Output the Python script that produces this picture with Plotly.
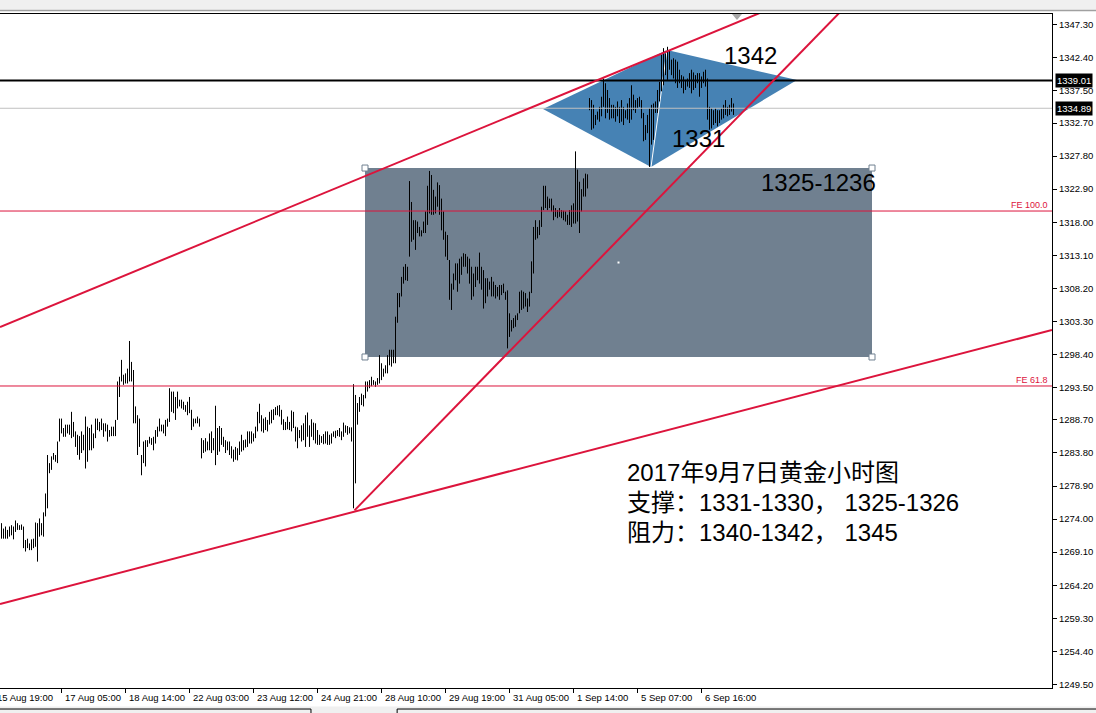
import plotly.graph_objects as go

# H1 gold bars (high / low per bar, oldest first)
bar_highs = [
    1273.4, 1272.6, 1272.9, 1272.4, 1272.9, 1273.1, 1272.9, 1273.8, 1273.4, 1273.1,
    1273.2, 1272.9, 1270.9, 1271.1, 1270.4, 1271.0, 1271.1, 1273.5, 1273.4, 1274.1,
    1273.4, 1275.0, 1277.8, 1283.5, 1282.3, 1283.3, 1283.8, 1283.5, 1285.5, 1288.9,
    1288.9, 1287.5, 1288.0, 1288.0, 1288.0, 1289.9, 1288.4, 1287.0, 1286.5, 1286.3,
    1287.0, 1286.5, 1289.2, 1287.7, 1287.5, 1288.0, 1286.7, 1288.9, 1288.9, 1288.4,
    1288.9, 1288.2, 1288.2, 1288.0, 1287.2, 1287.7, 1287.7, 1288.7, 1294.4, 1295.1,
    1297.6, 1295.4, 1295.6, 1296.3, 1300.4, 1297.3, 1296.1, 1290.7, 1289.4, 1288.9,
    1283.5, 1285.5, 1285.7, 1285.7, 1286.2, 1286.0, 1286.2, 1287.2, 1287.7, 1288.9,
    1288.0, 1288.0, 1288.7, 1288.9, 1293.4, 1292.9, 1292.9, 1292.1, 1292.9, 1291.7,
    1291.7, 1291.4, 1290.9, 1291.4, 1292.1, 1290.2, 1288.9, 1288.9, 1289.2, 1288.9,
    1286.0, 1285.7, 1286.0, 1285.5, 1286.7, 1287.0, 1286.0, 1290.8, 1287.5, 1287.8,
    1287.5, 1286.2, 1285.7, 1285.5, 1285.5, 1284.8, 1284.3, 1284.7, 1284.5, 1285.5,
    1286.5, 1285.7, 1285.8, 1287.0, 1287.0, 1287.0, 1286.7, 1287.7, 1289.9, 1291.1,
    1289.4, 1288.9, 1289.1, 1288.7, 1289.9, 1290.2, 1290.3, 1290.6, 1290.8, 1290.9,
    1290.2, 1288.8, 1288.4, 1289.2, 1288.4, 1290.1, 1289.9, 1287.7, 1287.6, 1287.2,
    1287.9, 1288.2, 1289.4, 1289.8, 1287.9, 1288.8, 1288.3, 1288.2, 1287.2, 1286.5,
    1286.3, 1286.6, 1287.0, 1287.0, 1286.5, 1286.7, 1287.0, 1287.1, 1287.2, 1287.5,
    1287.0, 1288.3, 1287.9, 1287.8, 1287.6, 1287.6, 1294.0, 1292.4, 1291.2, 1292.1,
    1292.6, 1292.4, 1294.4, 1294.4, 1294.6, 1295.1, 1294.6, 1294.4, 1294.9,
    1298.3, 1297.1, 1296.3, 1296.8, 1298.3, 1299.1, 1299.1, 1299.1, 1304.0, 1307.5,
    1307.5, 1309.9, 1311.4, 1311.8, 1311.4, 1324.1, 1321.0, 1318.3, 1318.3, 1318.1,
    1317.3, 1316.8, 1318.1, 1319.6, 1323.4, 1325.6, 1325.0, 1322.8, 1321.8, 1323.9,
    1323.5, 1321.5, 1319.6, 1316.6, 1316.1, 1312.4, 1308.9, 1310.4, 1311.9, 1311.9,
    1312.6, 1312.9, 1313.4, 1313.3, 1312.9, 1312.6, 1311.4, 1310.4, 1311.4, 1311.4,
    1313.5, 1311.4, 1310.9, 1309.7, 1309.7, 1309.2, 1309.9, 1309.2, 1308.7, 1308.4,
    1308.7, 1308.7, 1308.9, 1307.7, 1307.9, 1304.5, 1303.5, 1303.8, 1304.2, 1304.5,
    1307.7, 1307.9, 1307.7, 1307.5, 1306.7, 1307.7, 1312.2, 1317.3, 1318.3, 1317.3,
    1318.3, 1320.3, 1323.4, 1323.4, 1321.8, 1321.5, 1321.5, 1320.5, 1320.1, 1319.8,
    1320.1, 1319.8, 1319.7, 1319.6, 1319.1, 1319.8, 1320.5, 1320.8, 1328.5, 1325.8,
    1324.0, 1322.9, 1324.5, 1325.2, 1325.1,
    1336.4, 1336.1, 1335.4, 1333.9, 1334.4, 1335.1, 1336.6, 1339.3, 1338.6, 1337.6,
    1336.4, 1335.4, 1335.4, 1335.1, 1335.9, 1335.1, 1336.1, 1335.1, 1334.6, 1335.6,
    1336.4, 1338.3, 1336.9, 1336.1, 1336.4, 1336.6, 1336.1, 1334.2, 1332.4, 1333.9,
    1334.9, 1335.4, 1335.6, 1335.9, 1337.6, 1338.8, 1342.8, 1343.8, 1343.0, 1344.0,
    1343.5, 1342.1, 1342.3, 1342.1, 1341.8, 1340.6, 1339.8, 1339.6, 1339.1, 1339.3,
    1340.1, 1340.6, 1340.2, 1339.8, 1340.1, 1340.1, 1339.6, 1340.3, 1340.6, 1339.3,
    1335.1, 1334.9, 1334.6, 1334.9, 1334.6, 1334.6, 1334.9, 1335.4, 1336.1, 1335.1,
    1335.4, 1336.4, 1335.6,
]
bar_lows = [
    1271.1, 1271.1, 1271.1, 1271.1, 1271.4, 1271.6, 1271.0, 1272.1, 1272.4, 1272.4,
    1272.4, 1269.7, 1269.2, 1269.7, 1269.4, 1269.4, 1269.7, 1269.9, 1267.7, 1271.4,
    1271.6, 1271.4, 1274.4, 1275.6, 1280.8, 1281.3, 1282.8, 1282.5, 1282.3, 1285.5,
    1286.7, 1286.2, 1286.2, 1286.7, 1286.5, 1286.0, 1286.2, 1284.7, 1283.5, 1282.8,
    1283.8, 1284.2, 1281.5, 1282.5, 1284.2, 1284.2, 1284.5, 1286.0, 1287.2, 1287.0,
    1287.2, 1286.2, 1287.0, 1285.5, 1286.2, 1286.3, 1286.3, 1286.3, 1288.7, 1292.1,
    1294.4, 1293.9, 1294.1, 1294.1, 1294.4, 1294.4, 1288.2, 1288.2, 1283.5, 1284.7,
    1280.5, 1282.3, 1281.8, 1284.7, 1285.2, 1285.0, 1284.2, 1285.2, 1286.2, 1287.0,
    1287.0, 1286.7, 1286.3, 1287.7, 1288.4, 1289.9, 1289.7, 1288.7, 1290.4, 1290.7,
    1290.4, 1290.2, 1289.9, 1289.4, 1289.7, 1287.2, 1287.7, 1288.2, 1288.2, 1287.7,
    1283.0, 1283.8, 1284.0, 1284.2, 1284.2, 1283.8, 1284.2, 1282.0, 1283.5, 1284.0,
    1285.0, 1284.7, 1283.8, 1284.2, 1283.5, 1283.0, 1282.5, 1282.8, 1282.7, 1283.5,
    1284.0, 1284.2, 1284.6, 1284.7, 1285.2, 1285.2, 1285.5, 1286.0, 1287.0, 1288.2,
    1287.0, 1286.8, 1287.2, 1287.0, 1288.0, 1288.2, 1288.7, 1289.4, 1289.4, 1289.2,
    1288.0, 1287.2, 1287.2, 1287.3, 1287.2, 1287.0, 1287.5, 1285.5, 1284.5, 1286.0,
    1285.5, 1285.7, 1284.7, 1286.2, 1284.7, 1286.2, 1285.7, 1285.2, 1285.0, 1285.0,
    1285.3, 1285.1, 1285.2, 1285.0, 1285.0, 1285.2, 1286.2, 1286.0, 1286.3, 1286.2,
    1285.7, 1286.2, 1286.8, 1286.5, 1286.7, 1285.5, 1275.6, 1279.3, 1288.0, 1289.9,
    1290.9, 1290.7, 1291.9, 1292.9, 1293.4, 1293.7, 1293.9, 1293.6, 1293.9,
    1294.1, 1294.6, 1295.1, 1295.6, 1295.6, 1296.8, 1296.6, 1297.1, 1297.1, 1303.1,
    1305.4, 1307.0, 1308.9, 1309.4, 1309.3, 1312.9, 1315.1, 1315.4, 1313.9, 1316.4,
    1315.9, 1315.9, 1316.4, 1316.4, 1317.6, 1319.3, 1319.1, 1319.1, 1319.3, 1320.3,
    1319.1, 1316.8, 1315.4, 1312.9, 1312.4, 1306.5, 1305.0, 1308.0, 1309.4, 1307.7,
    1308.9, 1310.2, 1311.4, 1311.4, 1310.4, 1308.9, 1306.5, 1307.0, 1308.4, 1309.4,
    1308.9, 1308.0, 1305.2, 1306.0, 1307.0, 1308.0, 1307.0, 1307.0, 1306.7, 1307.0,
    1306.5, 1307.2, 1307.5, 1306.5, 1299.3, 1301.0, 1301.8, 1302.3, 1302.5, 1303.5,
    1304.5, 1305.0, 1305.2, 1305.5, 1304.7, 1305.5, 1307.5, 1310.4, 1315.4, 1315.6,
    1316.1, 1317.3, 1319.8, 1320.1, 1319.8, 1320.1, 1319.6, 1318.3, 1318.8, 1318.6,
    1318.8, 1318.6, 1318.3, 1318.1, 1317.6, 1317.6, 1317.3, 1317.8, 1317.8, 1318.1,
    1316.4, 1319.6, 1321.8, 1321.8, 1323.0,
    1334.6, 1331.7, 1331.9, 1332.4, 1333.2, 1332.9, 1333.7, 1335.1, 1333.4, 1334.2,
    1333.2, 1333.4, 1333.4, 1332.9, 1333.7, 1332.7, 1332.9, 1332.4, 1333.4, 1333.2,
    1332.7, 1333.2, 1334.6, 1334.2, 1334.9, 1335.1, 1333.4, 1330.0, 1330.2, 1331.2,
    1326.2, 1329.5, 1330.2, 1334.2, 1334.2, 1335.9, 1337.4, 1338.3, 1339.8, 1339.1,
    1340.6, 1339.8, 1339.3, 1338.6, 1337.9, 1338.6, 1337.9, 1337.1, 1337.6, 1338.1,
    1337.9, 1337.1, 1337.6, 1337.9, 1338.6, 1336.6, 1337.9, 1338.6, 1338.1, 1333.2,
    1331.7, 1331.9, 1332.4, 1332.7, 1332.2, 1332.7, 1333.2, 1333.4, 1333.9, 1333.7,
    1333.9, 1334.4, 1333.9,
]

time_tick_bars = [30, 62, 94, 126, 158, 190, 222, 254, 286, 318, 350]
time_tick_labels = [
    "17 Aug 05:00", "18 Aug 14:00", "22 Aug 03:00", "23 Aug 12:00",
    "24 Aug 21:00", "28 Aug 10:00", "29 Aug 19:00", "31 Aug 05:00",
    "1 Sep 14:00", "5 Sep 07:00", "6 Sep 16:00",
]
first_partial_label = "15 Aug 19:00"

price_ticks = [
    1249.50, 1254.40, 1259.30, 1264.20, 1269.10, 1274.00, 1278.90, 1283.80,
    1288.70, 1293.50, 1298.40, 1303.30, 1308.20, 1313.10, 1318.00, 1322.90,
    1327.80, 1332.70, 1337.50, 1342.40, 1347.30,
]

bid_price = 1334.89
level_price = 1339.01
fe_levels = {"FE 100.0": 1319.66, "FE 61.8": 1293.73}

# chart objects, anchored on (bar, price)
zone_box = (181.75, 1298.03, 435.25, 1326.03)
diamond = [(270.75, 1334.78), (332.75, 1343.52), (397.75, 1339.08), (324.75, 1326.18)]
upper_channel = ((-0.75, 1302.47), (400.0, 1351.56))
lower_channel = ((-0.75, 1261.42), (525.25, 1302.03))
rising_line = ((176.5, 1275.3), (430.0, 1352.4))

price_notes = [
    ("1342", 374.25, 1342.78),
    ("1331", 348.25, 1330.48),
    ("1325-1236", 408.25, 1323.96),
]
summary_lines = [
    ("2017年9月7日黄金小时图", 1280.98),
    ("支撑：1331-1330， 1325-1326", 1276.39),
    ("阻力：1340-1342， 1345", 1272.09),
]

CRIMSON = "#dc143c"
TICK_FONT = {"family": "Liberation Sans, Arial, sans-serif", "size": 9.5, "color": "#000000"}
BIG_FONT = {"family": "Liberation Sans, Noto Sans CJK SC, sans-serif", "size": 24, "color": "#000000"}

x_range = [-0.75, 525.25]
y_range = [1248.97, 1348.86]

bar_x: list = []
bar_y: list = []
for index, (high, low) in enumerate(zip(bar_highs, bar_lows)):
    bar_x += [index, index, None]
    bar_y += [low, high, None]

fig = go.Figure()
fig.add_trace(
    go.Scatter(
        x=bar_x,
        y=bar_y,
        mode="lines",
        line={"color": "#000000", "width": 1},
        hoverinfo="skip",
        showlegend=False,
    )
)

shapes = []

# window chrome above and below the chart
shapes.append(dict(type="rect", xref="paper", yref="paper", x0=-0.01, x1=1.05,
                   y0=1.0062, y1=1.03, fillcolor="#f0f0f0", line={"width": 0}, layer="below"))
shapes.append(dict(type="line", xref="paper", yref="paper", x0=-0.01, x1=1.05,
                   y0=1.0052, y1=1.0052, line={"color": "#a0a0a0", "width": 1.5}))
shapes.append(dict(type="rect", xref="paper", yref="paper", x0=-0.01, x1=1.05,
                   y0=-0.04, y1=-0.0275, fillcolor="#f0f0f0", line={"width": 0}))
shapes.append(dict(type="rect", xref="paper", yref="paper", x0=-0.01, x1=0.2956,
                   y0=-0.045, y1=-0.0312, fillcolor="#f0f0f0", line={"color": "#000000", "width": 1}))
shapes.append(dict(type="rect", xref="paper", yref="paper", x0=0.3775, x1=1.05,
                   y0=-0.045, y1=-0.0312, fillcolor="#f0f0f0", line={"color": "#000000", "width": 1}))

# support zone rectangle and triangle pair
shapes.append(dict(type="rect", x0=zone_box[0], y0=zone_box[1], x1=zone_box[2], y1=zone_box[3],
                   fillcolor="#708090", line={"width": 0}, layer="below"))
path = "M " + " L ".join(f"{x},{y}" for x, y in diamond) + " Z"
shapes.append(dict(type="path", path=path, fillcolor="#4682b4", line={"width": 0}, layer="below"))
shapes.append(dict(type="line", x0=diamond[3][0], y0=diamond[3][1], x1=diamond[1][0], y1=diamond[1][1],
                   line={"color": "#ffffff", "width": 1}, layer="below"))

# selection handles of the zone rectangle
handle_points = [
    (zone_box[0], zone_box[1]), (zone_box[0], zone_box[3]),
    (zone_box[2], zone_box[1]), (zone_box[2], zone_box[3]),
]
for hx, hy in handle_points:
    shapes.append(dict(type="rect", xsizemode="pixel", ysizemode="pixel", xanchor=hx, yanchor=hy,
                       x0=-3, x1=3, y0=-3, y1=3, fillcolor="#ffffff",
                       line={"color": "#708090", "width": 1}))
shapes.append(dict(type="rect", xsizemode="pixel", ysizemode="pixel",
                   xanchor=(zone_box[0] + zone_box[2]) / 2, yanchor=(zone_box[1] + zone_box[3]) / 2,
                   x0=-1, x1=1, y0=-1, y1=1, fillcolor="#ffffff", line={"width": 0}))

# horizontal levels
shapes.append(dict(type="line", xref="paper", x0=0, x1=1, y0=bid_price, y1=bid_price,
                   line={"color": "#c0c0c0", "width": 1}))
shapes.append(dict(type="line", xref="paper", x0=0, x1=1, y0=level_price, y1=level_price,
                   line={"color": "#000000", "width": 2}))
for fe_price in fe_levels.values():
    shapes.append(dict(type="line", xref="paper", x0=0, x1=1, y0=fe_price, y1=fe_price,
                       line={"color": CRIMSON, "width": 1}))

# trend lines
for (x0, y0), (x1, y1) in (upper_channel, lower_channel, rising_line):
    shapes.append(dict(type="line", x0=x0, y0=y0, x1=x1, y1=y1,
                       line={"color": CRIMSON, "width": 2}))

# small arrow marker under the top border
shapes.append(dict(type="path", xsizemode="pixel", ysizemode="pixel", xanchor=367.75, yanchor=y_range[1],
                   path="M -5,0 L 5,0 L 0,-6 Z", fillcolor="#a9a9a9", line={"width": 0}))

annotations = []
for bar, label in zip(time_tick_bars, time_tick_labels):
    annotations.append(dict(x=bar, xref="x", y=0, yref="paper", text=label, showarrow=False,
                            xanchor="left", yanchor="top", xshift=1, yshift=-2, font=TICK_FONT))
annotations.append(dict(x=0, xref="paper", y=0, yref="paper", text=first_partial_label, showarrow=False,
                        xanchor="left", yanchor="top", xshift=-5, yshift=-2, font=TICK_FONT))

for price in (level_price, bid_price):
    annotations.append(dict(x=1, xref="paper", y=price, yref="y", text=f"{price:.2f}", showarrow=False,
                            xanchor="left", yanchor="middle", xshift=3, bgcolor="#000000", borderpad=1,
                            font={**TICK_FONT, "color": "#ffffff"}))

for label, fe_price in fe_levels.items():
    annotations.append(dict(x=1, xref="paper", y=fe_price, yref="y", text=label, showarrow=False,
                            xanchor="right", yanchor="bottom", xshift=-2, yshift=-1,
                            font={"family": "Liberation Sans, Arial, sans-serif", "size": 9, "color": CRIMSON}))

for text, bar, price in price_notes:
    annotations.append(dict(x=bar, y=price, text=text, showarrow=False,
                            xanchor="center", yanchor="middle", font=BIG_FONT))

for text, price in summary_lines:
    annotations.append(dict(x=311.75, y=price, text=text, showarrow=False,
                            xanchor="left", yanchor="middle", font=BIG_FONT))

fig.update_layout(
    width=1096,
    height=713,
    margin={"l": 0, "r": 44, "t": 14, "b": 25},
    paper_bgcolor="#ffffff",
    plot_bgcolor="#ffffff",
    showlegend=False,
    hovermode=False,
    shapes=shapes,
    annotations=annotations,
    xaxis={
        "range": x_range,
        "showgrid": False,
        "zeroline": False,
        "showline": True,
        "mirror": True,
        "linecolor": "#000000",
        "linewidth": 1,
        "ticks": "outside",
        "ticklen": 4,
        "tickcolor": "#000000",
        "tickvals": time_tick_bars,
        "showticklabels": False,
        "fixedrange": True,
    },
    yaxis={
        "range": y_range,
        "side": "right",
        "showgrid": False,
        "zeroline": False,
        "showline": True,
        "linecolor": "#000000",
        "linewidth": 1,
        "ticks": "outside",
        "ticklen": 4,
        "tickcolor": "#000000",
        "tickvals": price_ticks,
        "ticktext": [f"{value:.2f}" for value in price_ticks],
        "tickfont": TICK_FONT,
        "fixedrange": True,
    },
)

# page body has a default 8px margin; drop it so the chart fills the window
fig.write_html(
    "out.html",
    config={"displayModeBar": False},
    post_script="document.body.style.margin='0';document.body.style.overflow='hidden';",
)
